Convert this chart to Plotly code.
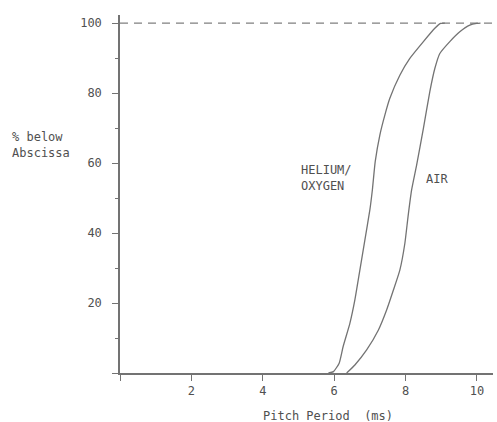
import plotly.graph_objects as go

# Data
helium_x = [5.84, 5.98, 6.14, 6.25, 6.44, 6.58, 6.72, 6.86, 7.0, 7.07, 7.15, 7.28, 7.42, 7.56, 7.84, 8.12, 8.5, 8.82, 8.98, 9.1]
helium_y = [0, 0.4, 2.8, 7.5, 14.2, 20.9, 29.4, 38, 46.6, 52.3, 60.4, 68, 73.7, 78.5, 85.1, 89.9, 94.7, 98.5, 99.9, 100]
air_x = [6.35, 6.58, 6.91, 7.24, 7.47, 7.66, 7.84, 7.98, 8.07, 8.17, 8.31, 8.5, 8.68, 8.82, 8.96, 9.24, 9.52, 9.8, 9.99, 10.1]
air_y = [0, 2.3, 6.6, 12.3, 18, 23.7, 29.4, 37, 44.7, 52.3, 59.4, 69.9, 80.4, 87, 91.3, 94.7, 97.5, 99.4, 99.9, 100]
ref_x = [0, 10.45]
ref_y = [100, 100]

x_tickvals = [0, 2, 4, 6, 8, 10]
x_ticktext = ["", "2", "4", "6", "8", "10"]
y_tickvals = [0, 20, 40, 60, 80, 100]
y_ticktext = ["", "20", "40", "60", "80", "100"]

FONT = "DejaVu Sans Mono"
LINE = "#737373"
TEXT = "#505050"

fig = go.Figure()
fig.add_trace(go.Scatter(x=ref_x, y=ref_y, mode="lines",
                         line=dict(color="#808080", width=1.3, dash="8px,6px"),
                         showlegend=False, hoverinfo="skip"))
fig.add_trace(go.Scatter(x=helium_x, y=helium_y, mode="lines", name="HELIUM/OXYGEN",
                         line=dict(color=LINE, width=1.3, shape="spline", smoothing=0.5),
                         showlegend=False))
fig.add_trace(go.Scatter(x=air_x, y=air_y, mode="lines", name="AIR",
                         line=dict(color=LINE, width=1.3, shape="spline", smoothing=0.5),
                         showlegend=False))

fig.update_layout(
    width=497, height=422,
    margin=dict(l=120, r=4, t=15, b=49),
    paper_bgcolor="white", plot_bgcolor="white",
    font=dict(family=FONT, size=12, color=TEXT),
    showlegend=False,
    xaxis=dict(range=[0, 10.45], showgrid=False, zeroline=False,
               showline=True, linecolor=LINE, linewidth=1.5,
               ticks="outside", ticklen=6, tickwidth=1.3, tickcolor=LINE,
               tickvals=x_tickvals, ticktext=x_ticktext,
               tickfont=dict(family=FONT, size=12, color=TEXT)),
    yaxis=dict(range=[0, 102.3], showgrid=False, zeroline=False,
               showline=True, linecolor=LINE, linewidth=1.5,
               ticks="outside", ticklen=6, tickwidth=1.3, tickcolor=LINE,
               tickvals=y_tickvals, ticktext=y_ticktext,
               ticklabelstandoff=8,
               minor=dict(dtick=10, tick0=0, ticks="outside", ticklen=3,
                          tickwidth=1.2, tickcolor=LINE, showgrid=False),
               tickfont=dict(family=FONT, size=12, color=TEXT)),
    annotations=[
        dict(text="Pitch Period  (ms)", xref="x", yref="paper", x=5.83, y=0,
             yshift=-43, showarrow=False, xanchor="center", yanchor="middle",
             font=dict(family=FONT, size=12, color=TEXT)),
        dict(text="% below<br>Abscissa", xref="paper", yref="paper", x=-0.295, y=0.638,
             showarrow=False, xanchor="left", yanchor="middle", align="left",
             font=dict(family=FONT, size=12, color=TEXT)),
        dict(text="HELIUM/<br>OXYGEN", xref="x", yref="y", x=5.01, y=55.6,
             showarrow=False, xanchor="left", yanchor="middle", align="left",
             font=dict(family=FONT, size=12, color=TEXT)),
        dict(text="AIR", xref="x", yref="y", x=8.88, y=55.4,
             showarrow=False, xanchor="center", yanchor="middle",
             font=dict(family=FONT, size=12, color=TEXT)),
    ],
)

fig.write_html("out.html")
